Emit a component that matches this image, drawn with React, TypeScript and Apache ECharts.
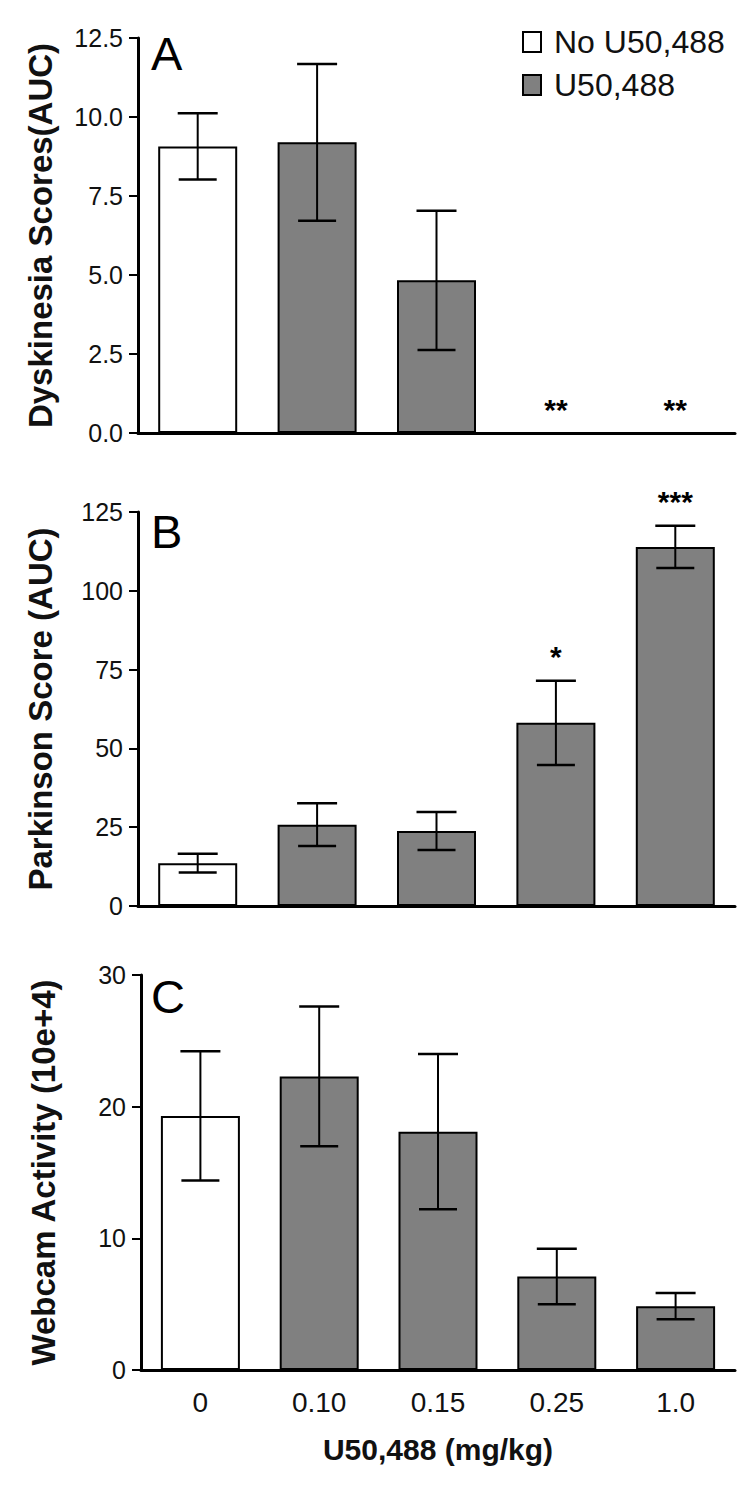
import React, { useEffect, useRef } from 'react';
import * as echarts from 'echarts';

const categories = ['0', '0.10', '0.15', '0.25', '1.0'];

const dyskMean = [9.07, 9.2, 4.83, 0, 0];
const dyskErr = [1.05, 2.48, 2.2, 0, 0];
const dyskSig = ['', '', '', '**', '**'];

const parkMean = [13.6, 25.8, 23.8, 58.1, 113.9];
const parkErr = [3.0, 6.8, 6.0, 13.4, 6.7];
const parkSig = ['', '', '', '*', '***'];

const webMean = [19.3, 22.3, 18.1, 7.1, 4.85];
const webErr = [4.9, 5.3, 5.9, 2.1, 1.0];
const webSig = ['', '', '', '', ''];

const legendNames = ['No U50,488', 'U50,488'];
const panelLetters = ['A', 'B', 'C'];
const yTitles = ['Dyskinesia Scores(AUC)', 'Parkinson Score (AUC)', 'Webcam Activity (10e+4)'];
const xTitle = 'U50,488 (mg/kg)';

const FONT = "'Liberation Sans', Arial, Helvetica, sans-serif";
const GRAY = '#808080';

function panelSeries(gi: number, mean: number[], err: number[], sig: string[]) {
  return [
    {
      type: 'bar',
      name: legendNames[0],
      xAxisIndex: gi,
      yAxisIndex: gi,
      data: mean.map((v, i) => (i === 0 ? v : '-')),
      barWidth: 79,
      barGap: '-100%',
      itemStyle: { color: '#ffffff', borderColor: '#000', borderWidth: 2 },
      z: 2,
    },
    {
      type: 'bar',
      name: legendNames[1],
      xAxisIndex: gi,
      yAxisIndex: gi,
      data: mean.map((v, i) => (i === 0 || v === 0 ? '-' : v)),
      barWidth: 79,
      barGap: '-100%',
      itemStyle: { color: GRAY, borderColor: '#000', borderWidth: 2 },
      z: 2,
    },
    {
      type: 'custom',
      xAxisIndex: gi,
      yAxisIndex: gi,
      z: 10,
      data: mean.map((m, i) => [i, m, err[i]]),
      renderItem: (params: any, api: any) => {
        const idx = api.value(0);
        const m = api.value(1);
        const e = api.value(2);
        const s = sig[params.dataIndex];
        const top = api.coord([idx, m + e]);
        const bot = api.coord([idx, m - e]);
        const cx = top[0];
        const children: any[] = [];
        if (e > 0) {
          children.push({
            type: 'line',
            shape: { x1: cx, y1: top[1], x2: cx, y2: bot[1] },
            style: { stroke: '#000', lineWidth: 2 },
          });
          children.push({
            type: 'line',
            shape: { x1: cx - 20, y1: top[1], x2: cx + 20, y2: top[1] },
            style: { stroke: '#000', lineWidth: 2.5 },
          });
          children.push({
            type: 'line',
            shape: { x1: cx - 19, y1: bot[1], x2: cx + 19, y2: bot[1] },
            style: { stroke: '#000', lineWidth: 2.5 },
          });
        }
        if (s) {
          children.push({
            type: 'text',
            style: {
              text: s,
              x: cx,
              y: top[1] - 24,
              align: 'center',
              verticalAlign: 'middle',
              font: `bold 30px ${FONT}`,
              fill: '#000',
            },
          });
        }
        return { type: 'group', children };
      },
    },
  ];
}

const grids = [
  { left: 138, right: 15, top: 38, height: 395 },
  { left: 138, right: 15, top: 512, height: 394 },
  { left: 141, right: 15, top: 975, height: 395 },
];

const yRanges = [
  { max: 12.5, interval: 2.5, fmt: (v: number) => v.toFixed(1) },
  { max: 125, interval: 25, fmt: (v: number) => String(v) },
  { max: 30, interval: 10, fmt: (v: number) => String(v) },
];

export default function App() {
  const ref = useRef<HTMLDivElement>(null);
  useEffect(() => {
    if (!ref.current) return;
    const chart = echarts.init(ref.current, undefined, { renderer: 'svg' });
    const xAxes = grids.map((g, gi) => ({
      type: 'category',
      gridIndex: gi,
      data: categories,
      boundaryGap: true,
      axisLine: { show: true, lineStyle: { color: '#000', width: 3 } },
      axisTick: { show: false },
      axisLabel: {
        show: gi === 2,
        fontFamily: FONT,
        fontSize: 28,
        color: '#111',
        margin: 18,
      },
      name: gi === 2 ? xTitle : '',
      nameLocation: 'middle',
      nameGap: 64,
      nameTextStyle: { fontFamily: FONT, fontSize: 30, fontWeight: 'bold', color: '#111' },
      splitLine: { show: false },
    }));
    const yAxes = grids.map((g, gi) => ({
      type: 'value',
      gridIndex: gi,
      min: 0,
      max: yRanges[gi].max,
      interval: yRanges[gi].interval,
      axisLine: { show: true, lineStyle: { color: '#000', width: 3 } },
      axisTick: { show: true, length: 9, lineStyle: { color: '#000', width: 2 } },
      axisLabel: {
        fontFamily: FONT,
        fontSize: 25,
        color: '#111',
        margin: 15,
        formatter: yRanges[gi].fmt,
      },
      splitLine: { show: false },
      name: yTitles[gi],
      nameLocation: 'middle',
      nameRotate: 90,
      nameGap: 81,
      nameTextStyle: { fontFamily: FONT, fontSize: 33, fontWeight: 'bold', color: '#111' },
    }));
    const letterTops = [30, 508, 973];
    const option: any = {
      animation: false,
      backgroundColor: '#fff',
      grid: grids,
      xAxis: xAxes,
      yAxis: yAxes,
      legend: {
        data: legendNames,
        orient: 'vertical',
        left: 522,
        top: 26,
        padding: 0,
        itemWidth: 18,
        itemHeight: 20,
        itemGap: 11,
        icon: 'rect',
        itemStyle: { borderColor: '#000', borderWidth: 2 },
        textStyle: {
          fontFamily: FONT,
          fontSize: 32,
          color: '#111',
          lineHeight: 32,
          padding: [0, 0, 0, 8],
        },
      },
      graphic: panelLetters.map((t, i) => ({
        type: 'text',
        left: 151,
        top: letterTops[i],
        style: { text: t, font: `47px ${FONT}`, fill: '#000' },
        z: 20,
      })),
      series: [
        ...panelSeries(0, dyskMean, dyskErr, dyskSig),
        ...panelSeries(1, parkMean, parkErr, parkSig),
        ...panelSeries(2, webMean, webErr, webSig),
      ],
    };
    chart.setOption(option);
    return () => chart.dispose();
  }, []);
  return (
    <div
      ref={ref}
      style={{ position: 'absolute', left: 0, top: 0, width: 750, height: 1487, background: '#fff' }}
    />
  );
}
